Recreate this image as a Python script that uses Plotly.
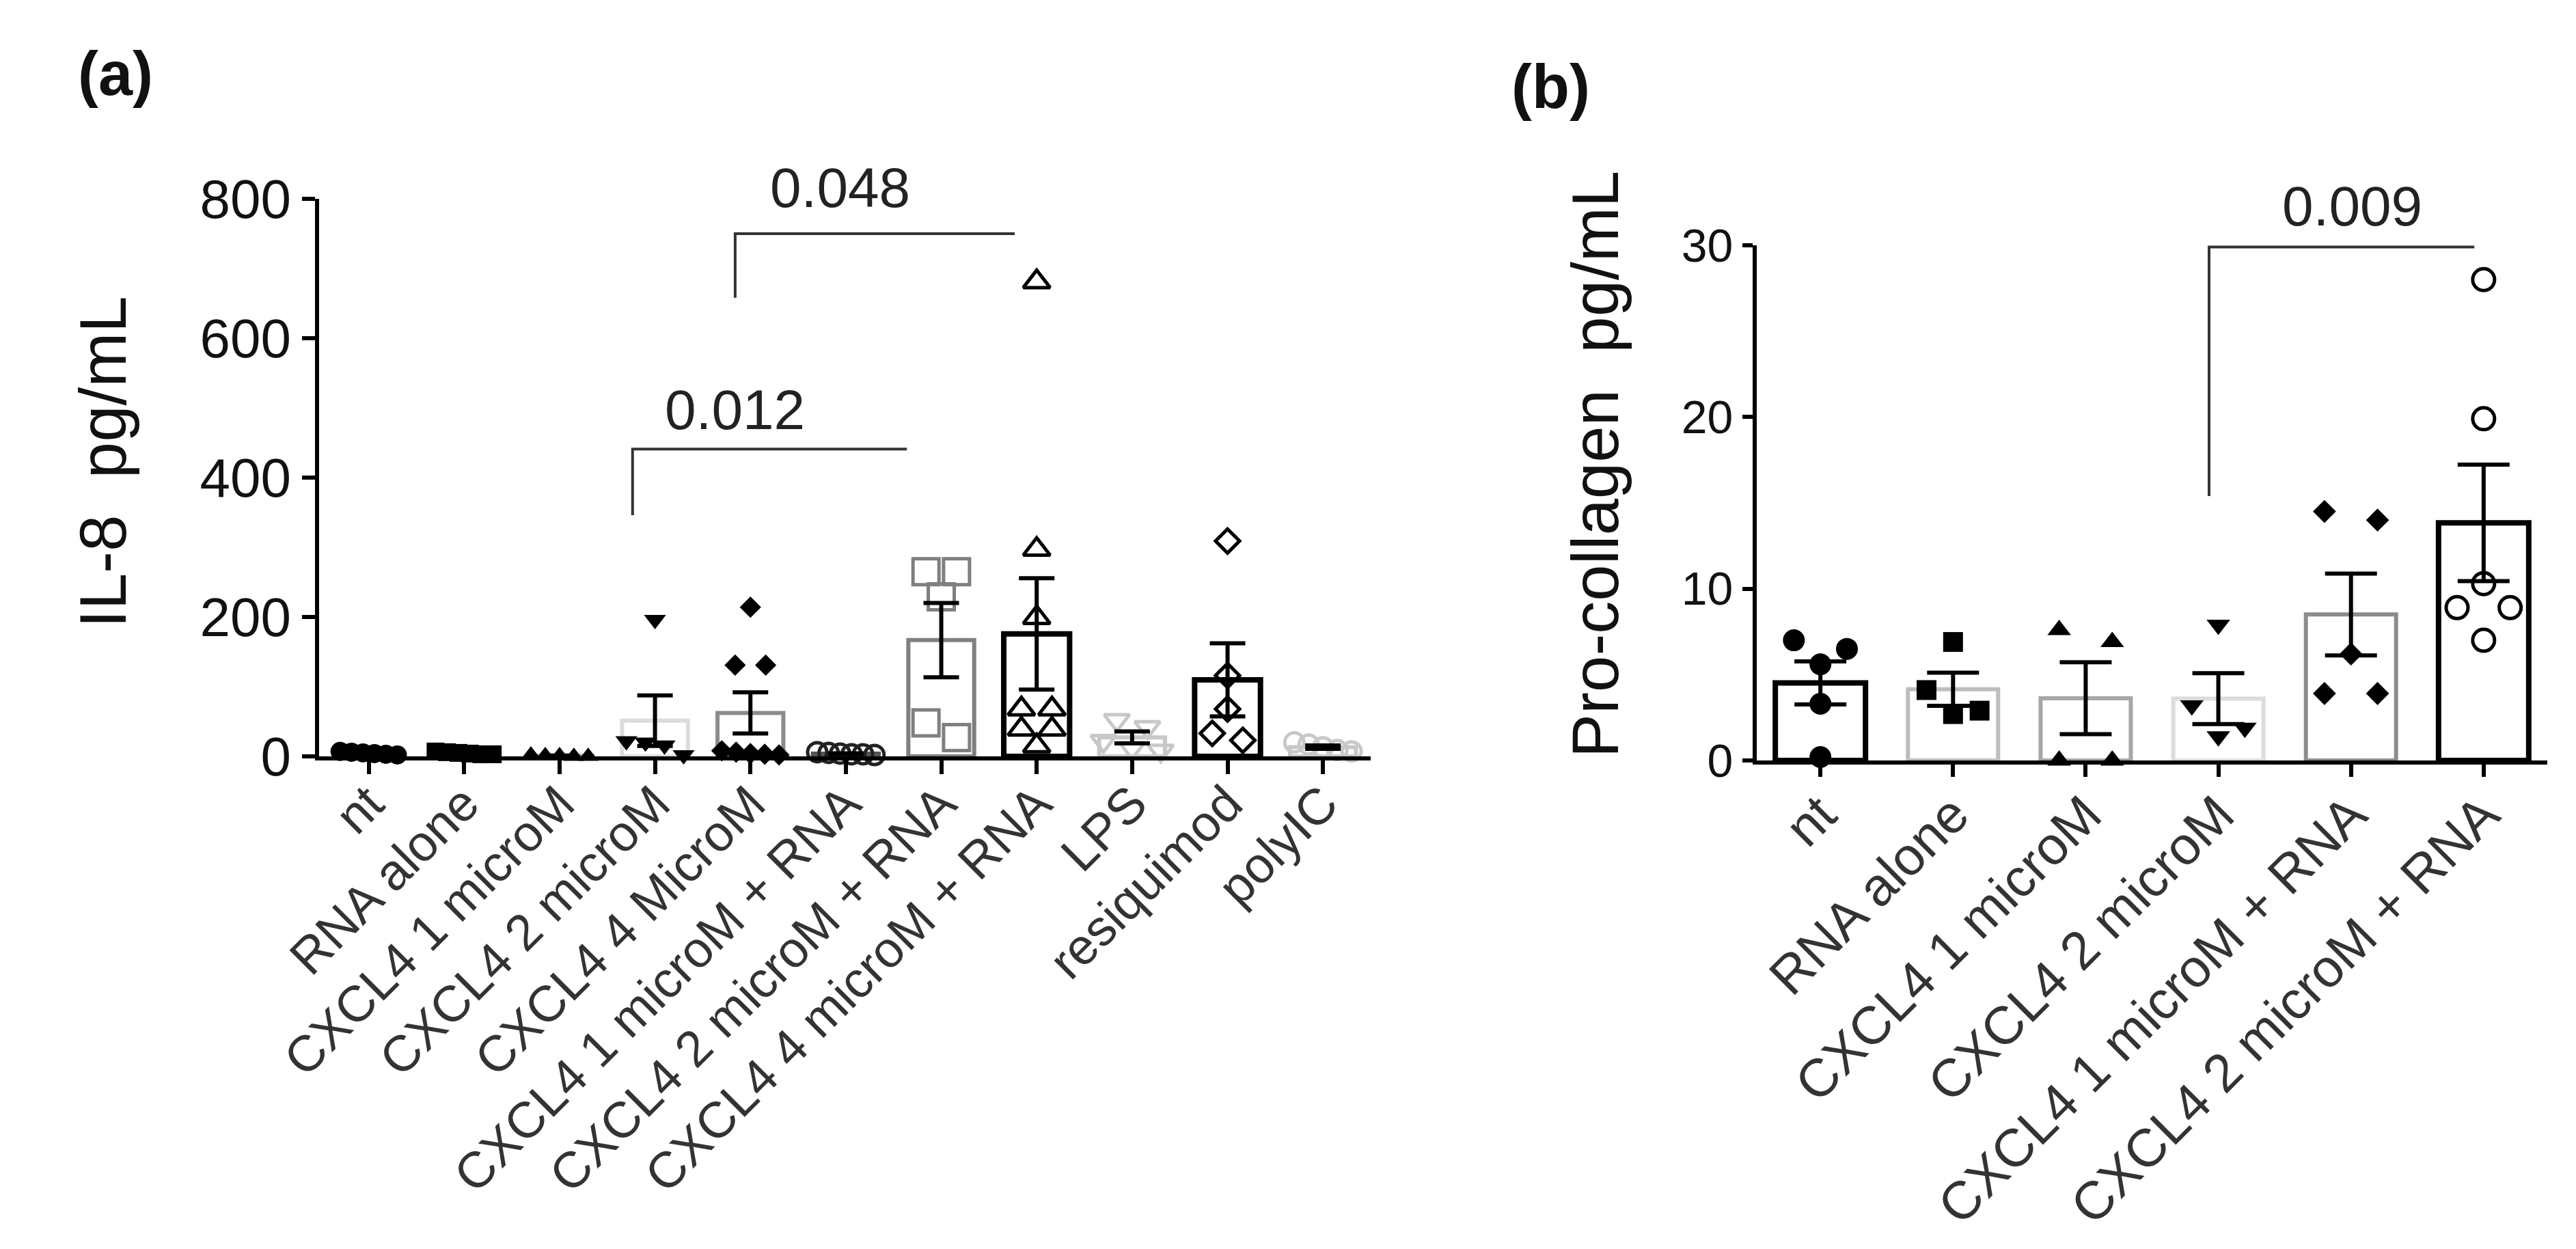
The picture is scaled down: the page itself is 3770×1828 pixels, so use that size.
import numpy as np
import plotly.graph_objects as go

# ---------------- data ----------------
cats_a = ["nt", "RNA alone", "CXCL4 1 microM", "CXCL4 2 microM", "CXCL4 4 MicroM",
          "CXCL4 1 microM + RNA", "CXCL4 2 microM + RNA", "CXCL4 4 microM + RNA",
          "LPS", "resiquimod", "polyIC"]
il8_nt = [7, 6, 5, 4, 3, 2]
il8_rna = [7, 6, 5, 4, 3, 3]
il8_c1 = [2, 1, 1, 0, 0]
il8_c2 = [196, 22, 20, 16, 2]
il8_c4 = [214, 131, 131, 8, 6, 4, 3, 2]
il8_c1r = [6, 5, 4, 3, 3, 2]
il8_c2r = [265, 265, 229, 48, 27]
il8_c4r = [681, 297, 199, 68, 68, 39, 39, 15]
il8_lps = [52, 42, 22, 12, 8]
il8_resq = [309, 116, 68, 33, 23]
il8_pic = [20, 17, 13, 9, 7]
il8_all = [il8_nt, il8_rna, il8_c1, il8_c2, il8_c4, il8_c1r, il8_c2r, il8_c4r,
           il8_lps, il8_resq, il8_pic]
range_a = [0, 800]
ticks_a = [0, 200, 400, 600, 800]

cats_b = ["nt", "RNA alone", "CXCL4 1 microM", "CXCL4 2 microM",
          "CXCL4 1 microM + RNA", "CXCL4 2 microM + RNA"]
pc_nt = [7.0, 6.5, 5.6, 3.3, 0.2]
pc_rna = [6.9, 4.1, 2.9, 2.7]
pc_c1 = [7.6, 6.9, 0.0, 0.0]
pc_c2 = [7.9, 3.2, 1.9, 1.4]
pc_c1r = [14.5, 14.0, 6.2, 3.9, 3.9]
pc_c2r = [28.0, 19.9, 10.3, 8.9, 8.9, 7.0]
pc_all = [pc_nt, pc_rna, pc_c1, pc_c2, pc_c1r, pc_c2r]
range_b = [0, 30]
ticks_b = [0, 10, 20, 30]

# significance brackets: (x_left, x_right, y_top, y_leg_bottom, label, label_x, label_y)
brackets_a = [(2.765, 5.64, 441, 346, "0.012", 3.84, 498),
              (3.84, 6.77, 750, 658, "0.048", 4.94, 816)]
brackets_b = [(2.93, 4.93, 29.9, 15.4, "0.009", 4.01, 32.3)]

# ---------------- styles ----------------
BLACK = "#000000"
G1 = "#c8c8c8"   # light grey
G2 = "#dcdcdc"   # very light grey
G3 = "#8c8c8c"   # mid grey
G4 = "#a6a6a6"
# (bar outline colour, bar outline width, marker symbol, marker colour, open?, marker size)
style_a = [(BLACK, 8, "circle", BLACK, False, 28),
           (G1, 6, "square", BLACK, False, 26),
           (G4, 6, "triangle-up", BLACK, False, 26),
           (G2, 6, "triangle-down", BLACK, False, 28),
           (G3, 6, "diamond", BLACK, False, 24),
           ("#555555", 6, "circle-open", "#222222", True, 28),
           ("#7f7f7f", 6, "square-open", "#7f7f7f", True, 38),
           (BLACK, 8, "triangle-up-open", BLACK, True, 34),
           (G1, 6, "triangle-down-open", G1, True, 32),
           (BLACK, 8, "diamond-open", BLACK, True, 27),
           (G1, 6, "circle-open", G1, True, 28)]
style_b = [(BLACK, 8, "circle", BLACK, False, 32),
           ("#bdbdbd", 6, "square", BLACK, False, 29),
           (G4, 6, "triangle-up", BLACK, False, 30),
           (G2, 6, "triangle-down", BLACK, False, 30),
           (G3, 6, "diamond", BLACK, False, 26),
           (BLACK, 8, "circle-open", BLACK, True, 32)]

W, H = 3770, 1828
FONT = "Liberation Sans, Arial, Helvetica, sans-serif"


def swarm(vals, thr, dx, maxw):
    """Symmetric horizontal spread of points with (nearly) equal values."""
    vals = np.asarray(vals, float)
    order = np.argsort(-vals, kind="stable")
    off = np.zeros(len(vals))
    groups = []
    for i in order:
        if groups and vals[groups[-1][0]] - vals[i] <= thr:
            groups[-1].append(i)
        else:
            groups.append([i])
    for g in groups:
        k = len(g)
        if k > 1:
            d = min(dx, maxw / (k - 1))
            for j, i in enumerate(g):
                off[i] = (j - (k - 1) / 2) * d
    return off


fig = go.Figure()


def add_panel(data, styles, xa, ya, bar_w, thr, dx, mlw, cap):
    n = len(data)
    xs = list(range(n))
    means = [float(np.mean(v)) for v in data]
    sems = [float(np.std(v, ddof=1) / np.sqrt(len(v))) for v in data]
    fig.add_trace(go.Bar(
        x=xs, y=means, width=bar_w, xaxis=xa, yaxis=ya,
        marker=dict(color="rgba(255,255,255,0)",
                    line=dict(color=[s[0] for s in styles], width=[s[1] for s in styles])),
        showlegend=False, hoverinfo="skip"))
    for i, (vals, st) in enumerate(zip(data, styles)):
        off = swarm(vals, thr, dx, 0.6)
        is_open = st[4]
        fig.add_trace(go.Scatter(
            x=[i + o for o in off], y=vals, mode="markers", xaxis=xa, yaxis=ya,
            cliponaxis=False, showlegend=False, hoverinfo="skip",
            marker=dict(symbol=st[2], color=st[3], size=st[5],
                        line=dict(width=mlw if is_open else 0, color=st[3]))))
    fig.add_trace(go.Scatter(
        x=xs, y=means, mode="markers", xaxis=xa, yaxis=ya, cliponaxis=False,
        marker=dict(size=1, color="rgba(0,0,0,0)"), showlegend=False, hoverinfo="skip",
        error_y=dict(type="data", array=sems, visible=True, color=BLACK,
                     thickness=6, width=cap)))


add_panel(il8_all, style_a, "x", "y", 0.69, 22, 0.32, 5, 26)
add_panel(pc_all, style_b, "x2", "y2", 0.68, 1.35, 0.40, 5, 38)

# brackets and p-value labels
shapes = []
annotations = []
for brs, xr, yr, rng in [(brackets_a, "x", "y", range_a), (brackets_b, "x2", "y2", range_b)]:
    for (xl, xrt, yt, yb, lab, lx, ly) in brs:
        shapes.append(dict(type="path", xref=xr, yref=yr,
                           path=f"M {xl},{yb} L {xl},{yt} L {xrt},{yt}",
                           line=dict(color="#333333", width=4)))
        annotations.append(dict(text=lab, x=lx, y=(ly - rng[0]) / (rng[1] - rng[0]),
                                xref=xr, yref=yr + " domain", showarrow=False,
                                font=dict(family=FONT, size=82, color="#222222"),
                                xanchor="center", yanchor="middle"))

# panel letters and y titles
lab_common = dict(xref="paper", yref="paper", showarrow=False,
                  xanchor="center", yanchor="middle")
annotations += [
    dict(lab_common, text="<b>(a)</b>", x=161 / W, y=1 - 100 / H,
         font=dict(family=FONT, size=90, color="#111111")),
    dict(lab_common, text="<b>(b)</b>", x=2261 / W, y=1 - 119 / H,
         font=dict(family=FONT, size=90, color="#111111")),
    dict(lab_common, text="IL-8\u00a0 pg/mL", x=142 / W, y=1 - 668 / H, textangle=-90,
         font=dict(family=FONT, size=96, color="#111111")),
    dict(lab_common, text="Pro-collagen\u00a0 pg/mL", x=2326 / W, y=1 - 672 / H, textangle=-90,
         font=dict(family=FONT, size=96, color="#111111")),
]

axis_common = dict(showline=True, linecolor=BLACK, linewidth=6, showgrid=False,
                   zeroline=False, ticks="outside", tickcolor=BLACK, tickwidth=6,
                   automargin=False)

fig.update_layout(
    template="none",
    width=W, height=H, margin=dict(l=0, r=0, t=0, b=0, autoexpand=False),
    paper_bgcolor="white", plot_bgcolor="white",
    shapes=shapes, annotations=annotations,
    xaxis=dict(axis_common, domain=[459 / W, 1998 / W], range=[-0.52, 10.5],
               tickvals=list(range(len(cats_a))), ticktext=cats_a, tickangle=-45,
               ticklen=20, ticklabelstandoff=-30,
               tickfont=dict(family=FONT, size=74, color="#333333"), anchor="y"),
    yaxis=dict(axis_common, domain=[1 - 1099 / H, 1 - 283 / H], range=range_a,
               tickvals=ticks_a, ticklen=19, anchor="x",
               tickfont=dict(family=FONT, size=80, color="#111111")),
    xaxis2=dict(axis_common, domain=[2563 / W, 3720 / W], range=[-0.48, 5.48],
                tickvals=list(range(len(cats_b))), ticktext=cats_b, tickangle=-45,
                ticklen=18, ticklabelstandoff=-22,
                tickfont=dict(family=FONT, size=78, color="#333333"), anchor="y2"),
    yaxis2=dict(axis_common, domain=[1 - 1105 / H, 1 - 351 / H], range=range_b,
                tickvals=ticks_b, ticklen=15, anchor="x2",
                tickfont=dict(family=FONT, size=68, color="#111111")),
)

fig.write_html("out.html")
